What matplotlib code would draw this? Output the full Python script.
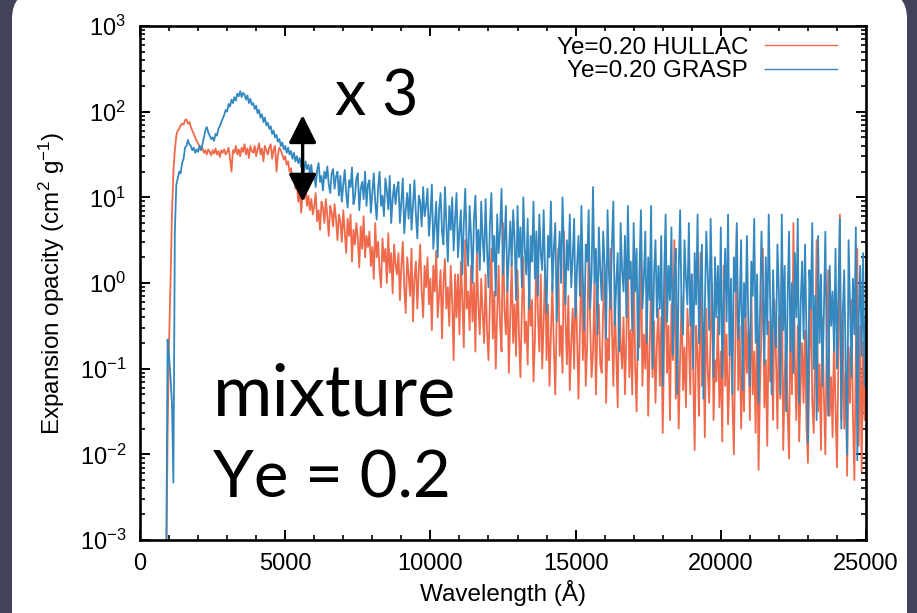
import numpy as np
import matplotlib
matplotlib.use("Agg")
import matplotlib.pyplot as plt
from matplotlib.patches import FancyBboxPatch, FancyArrowPatch
from matplotlib.transforms import IdentityTransform
from matplotlib.ticker import MultipleLocator, LogLocator, NullFormatter

plt.rcParams['font.family'] = ['Liberation Sans', 'DejaVu Sans']
plt.rcParams['mathtext.fontset'] = 'custom'
plt.rcParams['mathtext.rm'] = 'Liberation Sans'
plt.rcParams['mathtext.it'] = 'Liberation Sans:italic'
plt.rcParams['mathtext.default'] = 'regular'

# wavelength grid of the spectra (Angstrom), 50 A sampling from 900 A
wl_start, wl_step = 900, 50

# log10 of expansion opacity, one row per 1000 A
hullac_log = [
    -3.5, -1.8, -0.7, 0.0, 0.8, 1.3, 1.55, 1.72, 1.78, 1.8, 1.84, 1.86, 1.85, 1.9, 1.91, 1.86, 1.88, 1.82, 1.78, 1.74,
    1.7, 1.66, 1.63, 1.6, 1.56, 1.58, 1.52, 1.55, 1.5, 1.56, 1.53, 1.49, 1.55, 1.51, 1.57, 1.5, 1.54, 1.47, 1.55, 1.52,
    1.56, 1.5, 1.53, 1.58, 1.45, 1.3, 1.55, 1.52, 1.6, 1.5, 1.56, 1.48, 1.58, 1.53, 1.62, 1.5, 1.57, 1.46, 1.6, 1.54,
    1.52, 1.6, 1.48, 1.56, 1.63, 1.5, 1.57, 1.42, 1.6, 1.55, 1.5, 1.58, 1.62, 1.45, 1.56, 1.6, 1.3, 1.5, 1.58, 1.55,
    1.5, 1.44, 1.48, 1.38, 1.42, 1.3, 1.34, 1.2, 1.25, 1.1, 1.15, 0.95, 1.08, 0.82, 1.05, 0.98, 1.1, 0.9, 1.02, 0.85,
    0.98, 0.8, 0.9, 1.05, 0.72, 0.85, 0.62, 0.95, 0.88, 0.7, 0.98, 0.78, 0.55, 0.9, 0.82, 0.66, 0.92, 0.75, 0.5, 0.8,
    0.72, 0.48, 0.85, 0.6, 0.35, 0.75, 0.55, 0.8, 0.25, 0.62, 0.45, 0.7, 0.52, 0.18, 0.66, 0.4, 0.78, 0.3, 0.55, 0.42,
    0.6, 0.2, 0.42, 0.05, 0.7, 0.3, 0.48, 0.15, -0.05, 0.52, 0.25, 0.4, 0.0, 0.58, 0.12, 0.35, -0.12, 0.45, 0.22, 0.1,
    0.35, -0.2, 0.2, 0.48, -0.05, -0.35, 0.3, 0.1, -0.15, 0.4, -0.45, 0.05, 0.25, -0.3, 0.15, 0.45, -0.1, -0.4, 0.2, -0.05,
    0.3, -0.25, 0.05, -0.55, 0.2, -0.1, 0.38, -0.4, -0.15, 0.15, -0.65, 0.0, 0.28, -0.3, -0.05, -0.5, 0.2, -0.2, -0.9, 0.1,
    -0.4, 0.1, -0.6, 0.25, -0.2, -0.75, 0.5, -0.3, -0.1, -0.55, 0.2, -0.45, 0.0, -0.8, 0.35, -0.25, -0.6, 0.05, -0.35, -0.7,
    0.1, -0.55, -0.9, -0.2, 0.4, -0.65, -0.1, -1.0, -0.35, 0.2, -0.5, -0.8, 0.7, -0.3, -0.6, 0.0, -1.05, -0.4, 0.25, -0.7,
    -0.25, -0.85, 0.15, -0.6, -1.1, -0.3, 0.3, -0.7, -0.45, -0.95, 0.05, -0.5, -0.2, -1.15, -0.65, 0.5, -0.35, -0.8, 0.1, -1.0,
    -0.45, 0.2, -0.9, -0.25, -1.2, -0.6, 0.0, -0.75, -1.3, -0.35, 0.4, -0.85, -0.5, -1.05, 0.6, -0.4, -0.95, -0.15, -1.25, -0.7,
    -0.3, -1.0, 0.1, -0.6, -1.35, -0.5, 0.3, -0.9, -0.2, -1.2, -0.7, 0.5, -0.45, -1.1, -0.8, 0.0, -1.3, -0.55, -0.25, -0.95,
    -1.05, -0.3, 0.2, -1.4, -0.65, -0.9, 0.4, -0.5, -1.2, -0.2, -0.85, -1.45, 0.1, -0.7, -1.0, -0.4, -1.3, -0.6, 0.35, -1.1,
    -0.55, -1.3, 0.3, -0.95, -1.5, -0.4, -0.75, 0.6, -1.2, -0.6, -1.0, -0.2, -1.55, -0.8, 0.0, -1.1, -0.45, -1.4, -0.7, -0.3,
    -1.2, -0.4, -1.75, -0.7, 0.2, -1.05, -0.5, -1.6, -0.25, -0.9, 0.5, -1.35, -0.6, -1.7, -0.85, -0.15, -1.25, -0.75, -1.45, -0.3,
    -0.65, -1.3, 0.1, -1.05, -1.95, -0.5, -0.85, -1.55, 0.35, -1.2, -0.7, -1.8, -0.3, -1.0, -1.4, -0.55, 0.0, -1.6, -0.9, -1.15,
    -0.4, -1.45, -0.8, -1.85, 0.2, -1.2, -0.6, -1.65, -1.0, -0.1, -1.35, -2.0, -0.7, 0.6, -1.25, -0.5, -1.7, -0.9, -1.5, -0.25,
    -1.05, -0.55, -1.6, 0.0, -1.3, -0.8, -1.75, -0.35, -2.18, -1.2, -0.6, 0.4, -1.45, -0.9, -1.9, -0.45, -1.15, -0.7, -1.6, -0.2,
    -0.85, -1.7, -0.4, -1.35, 0.3, -1.95, -1.1, -0.6, -1.5, -2.05, -0.25, -1.3, 0.7, -0.9, -1.6, -0.5, -1.85, -1.2, -0.7, -1.4,
    -0.55, -1.65, -2.1, -0.9, -0.1, -1.4, -1.75, -0.7, 0.5, -1.5, -0.95, -1.95, -0.4, -1.3, -2.0, -0.65, 0.15, -1.55, -1.1, -1.8,
    -0.6, -1.45, -2.15, -0.9, 0.8, -1.6, -0.3, -1.7, -1.05, -2.25, -0.75, -1.4, -0.2, -1.55, -2.3, -0.8, 0.4, -1.9, -0.5, -2.2,
    -0.7, -1.6, -1.0,
]

grasp_log = [
    -3.5, -0.66, -0.85, -1.1, -1.4, -2.33, 0.6, 1.15, 1.22, 1.3, 1.28, 1.4, 1.45, 1.58, 1.6, 1.67, 1.62, 1.6, 1.55, 1.58,
    1.52, 1.56, 1.53, 1.6, 1.55, 1.62, 1.7, 1.78, 1.82, 1.76, 1.72, 1.68, 1.7, 1.66, 1.74, 1.72, 1.8, 1.83, 1.88, 1.92,
    1.96, 2.02, 2.0, 2.09, 2.06, 2.14, 2.1, 2.17, 2.13, 2.21, 2.18, 2.24, 2.17, 2.22, 2.2, 2.14, 2.19, 2.1, 2.15, 2.08,
    2.1, 2.03, 2.07, 1.98, 2.02, 1.93, 1.97, 1.88, 1.93, 1.84, 1.87, 1.8, 1.83, 1.74, 1.78, 1.7, 1.73, 1.65, 1.68, 1.6,
    1.64, 1.56, 1.6, 1.52, 1.58, 1.5, 1.54, 1.45, 1.52, 1.42, 1.48, 1.4, 1.46, 1.35, 1.44, 1.3, 1.42, 1.33, 1.38, 1.28,
    1.38, 1.2, 1.27, 1.12, 1.32, 1.4, 1.18, 1.25, 1.08, 1.3, 1.22, 1.36, 1.15, 1.05, 1.28, 1.33, 1.1, 1.24, 1.3, 1.02,
    1.25, 0.95, 1.15, 1.32, 1.05, 0.88, 1.2, 1.12, 1.35, 0.92, 1.0, 1.22, 1.28, 0.85, 1.1, 1.18, 0.98, 1.3, 0.9, 1.15,
    1.2, 0.82, 1.05, 1.28, 0.95, 0.74, 1.12, 1.3, 0.9, 1.02, 0.78, 1.22, 1.08, 0.86, 1.25, 0.7, 0.98, 1.15, 0.92, 1.1,
    1.18, 0.7, 0.95, 1.22, 0.58, 0.85, 1.05, 0.75, 1.15, 0.62, 0.9, 1.2, 0.8, 0.52, 1.02, 0.95, 0.66, 1.12, 0.78, 0.9,
    1.1, 0.55, 0.8, 1.15, 0.4, 0.68, 0.95, 0.3, 0.85, 1.05, 0.6, 0.45, 1.12, 0.7, 0.25, 0.9, 0.62, 1.0, 0.38, 0.75,
    1.05, 0.3, 0.6, 0.85, 0.1, 0.7, 1.1, 0.45, 0.2, 0.9, 0.55, 0.0, 0.75, 1.02, 0.35, 0.62, 0.15, 0.95, 0.5, 0.25,
    0.98, 0.4, -0.05, 0.7, 1.05, 0.25, 0.55, -0.15, 0.8, 0.35, 0.62, 1.1, 0.1, 0.45, 0.9, -0.1, 0.3, 0.72, 0.2, 0.85,
    0.5, -0.2, 0.9, 0.3, 0.65, -0.05, 1.0, 0.4, 0.1, 0.75, -0.3, 0.55, 0.25, 0.95, 0.05, 0.6, -0.15, 0.8, 0.35, 0.15,
    0.85, 0.1, -0.35, 0.55, 0.3, 0.95, -0.1, 0.4, 0.7, -0.45, 0.2, 0.6, 0.0, 1.0, 0.35, -0.25, 0.5, 0.15, 0.8, -0.05,
    0.3, 0.75, -0.4, 0.2, 0.55, -0.15, 0.9, 0.05, -0.55, 0.45, 0.25, 0.85, -0.3, 0.1, 1.12, 0.0, 0.4, -0.6, 0.65, 0.15,
    -0.2, 0.6, 0.2, -0.65, 0.85, 0.1, -0.3, 0.45, 0.95, -0.5, 0.0, 0.35, -0.8, 0.7, 0.15, -0.1, 0.55, -0.4, 0.9, 0.05,
    0.25, -0.55, 0.7, -0.1, 0.4, -0.9, 0.15, 0.85, -0.3, 0.05, 0.6, -0.7, 0.3, -0.2, 0.9, -1.0, 0.1, 0.5, -0.4, 0.2,
    -0.3, 0.55, -1.2, 0.1, 0.8, -0.45, 0.2, -0.2, 0.65, -0.85, 0.0, 0.4, -1.3, 0.15, 0.85, -0.35, -0.6, 0.5, 0.05, -0.25,
    0.7, -0.5, 0.1, -1.0, 0.35, -0.25, 0.8, -0.7, 0.0, 0.45, -1.35, -0.3, 0.6, 0.1, -0.55, 0.75, -0.1, -1.1, 0.3, -0.4,
    0.2, -0.6, 0.65, -1.1, -0.2, 0.4, -0.45, 0.8, -0.85, 0.05, -1.3, 0.3, -0.1, 0.7, -0.65, -0.3, 0.5, -1.25, 0.0, -0.4,
    0.55, -0.5, -1.2, 0.25, -0.15, 0.75, -0.7, 0.1, -1.4, -0.35, 0.6, -0.05, -0.95, 0.3, -0.6, 0.8, -0.2, -1.3, 0.15, -0.5,
    -0.75, 0.45, -0.1, -1.3, 0.8, -0.55, 0.2, -1.5, -0.2, 0.6, -0.8, 0.0, -1.05, 0.35, -0.4, 0.75, -1.4, -0.25, 0.25, -0.65,
    0.45, -0.6, -1.87, 0.15, -0.3, 0.7, -1.0, -0.15, -1.6, 0.55, -0.7, 0.1, -1.2, -0.35, 0.6, -0.85, -1.55, 0.2, -0.5, -0.1,
    -0.8, 0.4, -1.0, -0.1, 0.75, -1.7, -0.35, 0.15, -0.9, -2.0, 0.5, -0.25, -1.1, 0.05, -0.6, 0.65, -2.07, -0.4, 0.2, -0.85,
    0.35, -1.2, -0.3,
]

labels = ['Ye=0.20 HULLAC', 'Ye=0.20 GRASP']
colors = ['#f0694a', '#3388c0']

wavelength = wl_start + wl_step * np.arange(len(hullac_log))
hullac = 10.0 ** np.array(hullac_log)
grasp = 10.0 ** np.array(grasp_log)

fig = plt.figure(figsize=(9.17, 6.13), dpi=100, facecolor='#42425a')

# white rounded slide panel, behind everything
panel = FancyBboxPatch((12, -40), 895, 662, boxstyle='round,pad=0,rounding_size=28',
                       transform=IdentityTransform(), facecolor='white', edgecolor='none', zorder=-10)
fig.patches.append(panel)

ax = fig.add_axes([140 / 917, 1 - 540 / 613, 726 / 917, 514 / 613], zorder=1)
ax.plot(wavelength, hullac, color=colors[0], lw=1.3, label=labels[0])
ax.plot(wavelength, grasp, color=colors[1], lw=1.3, label=labels[1])

ax.set_yscale('log')
ax.set_xlim(0, 25000)
ax.set_ylim(1e-3, 1e3)
ax.xaxis.set_major_locator(MultipleLocator(5000))
ax.xaxis.set_minor_locator(MultipleLocator(1000))
ax.yaxis.set_major_locator(LogLocator(base=10, numticks=10))
ax.yaxis.set_minor_locator(LogLocator(base=10, subs=np.arange(2, 10), numticks=20))
ax.yaxis.set_minor_formatter(NullFormatter())

for s in ax.spines.values():
    s.set_linewidth(1.9)
ax.tick_params(which='both', direction='in', top=True, right=True, labelsize=17)
ax.tick_params(which='major', length=7, width=1.4)
ax.tick_params(which='minor', length=3.6, width=1.2)
ax.tick_params(axis='x', pad=9)
ax.tick_params(axis='y', pad=10)

ax.set_xlabel('Wavelength (Å)', fontsize=17.5)
ax.set_ylabel('Expansion opacity (cm$^2$ g$^{-1}$)', fontsize=17.5)
ax.xaxis.set_label_coords(0.5, -0.078)
ax.yaxis.set_label_coords(-0.10, 0.5)

leg = ax.legend(loc='upper right', bbox_to_anchor=(0.96, 0.979), frameon=False, fontsize=17.5,
                markerfirst=False, handlelength=2.96, handletextpad=0.7, labelspacing=0.05,
                borderpad=0, borderaxespad=0)
for h in leg.get_lines():
    h.set_linewidth(1.0)

# factor-of-3 double arrow
arrow = FancyArrowPatch((5600, 91), (5600, 8.9), arrowstyle='<|-|>,head_length=17,head_width=8.5',
                        mutation_scale=1, lw=2.4, color='black', shrinkA=0, shrinkB=0, zorder=5)
ax.add_patch(arrow)

fig.text(335 / 917, 1 - 115 / 613, 'x 3', family='Lato', fontsize=45, ha='left', va='baseline', zorder=3)
fig.text(213 / 917, 1 - 415 / 613, 'mixture', family='Lato', fontsize=52, ha='left', va='baseline', zorder=3)
fig.text(213 / 917, 1 - 498 / 613, 'Ye = 0.2', family='Lato', fontsize=47, ha='left', va='baseline', zorder=3)

fig.savefig('out.png', dpi=100, facecolor=fig.get_facecolor())
